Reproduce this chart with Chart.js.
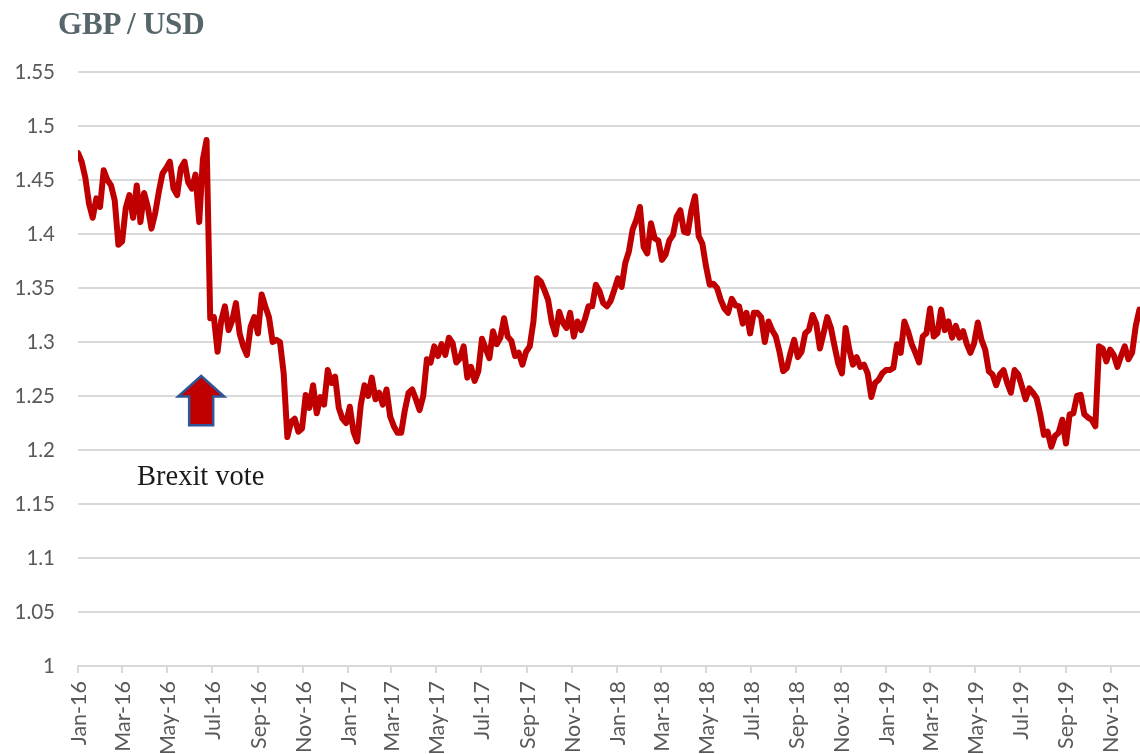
<!DOCTYPE html>
<html>
<head>
<meta charset="utf-8">
<title>GBP / USD</title>
<script src="https://cdn.jsdelivr.net/npm/chart.js@4"></script>
<style>
  html, body { margin: 0; padding: 0; background: #fff; overflow: hidden; }
  #wrap { position: relative; width: 1140px; height: 754px; }
  #title { position: absolute; left: 58px; top: 6px; font: bold 31px "Liberation Serif", serif; letter-spacing: -0.2px; color: #56666b; }
</style>
</head>
<body>
<div id="wrap">
  <div id="title">GBP / USD</div>
  <canvas id="fxChart" width="1140" height="754"></canvas>
</div>
<script>
// one reading roughly every 5 calendar days, starting 1 Jan 2016
const dayStep = 4.98;
const gbpUsd = [
  1.475, 1.467, 1.452, 1.428, 1.415, 1.433, 1.425, 1.459, 1.45, 1.445,
  1.431, 1.39, 1.393, 1.424, 1.436, 1.415, 1.445, 1.411, 1.438, 1.425,
  1.405, 1.419, 1.439, 1.456, 1.461, 1.467, 1.442, 1.436, 1.461, 1.467,
  1.448, 1.442, 1.455, 1.411, 1.469, 1.487, 1.322, 1.323, 1.291, 1.32,
  1.333, 1.311, 1.32, 1.336, 1.308, 1.296, 1.288, 1.314, 1.323, 1.308,
  1.344, 1.333, 1.323, 1.3, 1.302, 1.3, 1.271, 1.212, 1.226, 1.229,
  1.217, 1.22, 1.251, 1.239, 1.26, 1.234, 1.249, 1.242, 1.274, 1.262,
  1.268, 1.239, 1.229, 1.225, 1.24, 1.217, 1.208, 1.242, 1.26, 1.25,
  1.267, 1.247, 1.253, 1.242, 1.256, 1.231, 1.222, 1.216, 1.216, 1.237,
  1.253, 1.256, 1.247, 1.237, 1.25, 1.284, 1.281, 1.296, 1.287, 1.298,
  1.288, 1.304, 1.299, 1.281, 1.285, 1.296, 1.267, 1.277, 1.264, 1.273,
  1.303, 1.294, 1.285, 1.31, 1.298, 1.304, 1.322, 1.305, 1.301, 1.287,
  1.29, 1.279, 1.291, 1.296, 1.319, 1.359, 1.356, 1.348, 1.339, 1.318,
  1.307, 1.328, 1.318, 1.313, 1.327, 1.305, 1.319, 1.311, 1.321, 1.333,
  1.333, 1.353, 1.347, 1.336, 1.333, 1.338, 1.348, 1.359, 1.351, 1.373,
  1.384, 1.404, 1.413, 1.425, 1.388, 1.382, 1.41, 1.396, 1.394, 1.376,
  1.381, 1.394, 1.399, 1.416, 1.422, 1.402, 1.401, 1.422, 1.435, 1.398,
  1.391, 1.37, 1.353, 1.354, 1.35, 1.339, 1.331, 1.327, 1.34, 1.334,
  1.333, 1.317, 1.327, 1.308, 1.327, 1.327, 1.323, 1.3, 1.319, 1.311,
  1.305, 1.291, 1.273, 1.276, 1.29, 1.302, 1.286, 1.291, 1.308, 1.311,
  1.325, 1.317, 1.294, 1.308, 1.323, 1.313, 1.296, 1.28, 1.271, 1.313,
  1.293, 1.279, 1.286, 1.277, 1.279, 1.271, 1.249, 1.262, 1.265, 1.271,
  1.274, 1.274, 1.276, 1.298, 1.29, 1.319, 1.31, 1.298, 1.29, 1.281,
  1.305, 1.308, 1.331, 1.305, 1.308, 1.33, 1.311, 1.319, 1.304, 1.315,
  1.304, 1.31, 1.298, 1.29, 1.299, 1.318, 1.302, 1.293, 1.273, 1.27,
  1.26, 1.27, 1.274, 1.262, 1.253, 1.274, 1.27, 1.259, 1.247, 1.257,
  1.253, 1.248, 1.233, 1.214, 1.217, 1.203, 1.213, 1.216, 1.228, 1.206,
  1.233, 1.234, 1.25, 1.251, 1.233, 1.23, 1.228, 1.222, 1.296, 1.294,
  1.282, 1.293, 1.288, 1.277, 1.287, 1.296, 1.284, 1.29, 1.315, 1.33
];

// x axis: days since 1 Jan 2016, a tick every second month
const tickDays = [0, 60, 121, 182, 244, 305, 366, 425, 486, 547, 609, 670, 731, 790, 851, 912, 974, 1035, 1096, 1155, 1216, 1277, 1339, 1400];
const tickLabels = ['Jan-16', 'Mar-16', 'May-16', 'Jul-16', 'Sep-16', 'Nov-16', 'Jan-17', 'Mar-17', 'May-17', 'Jul-17', 'Sep-17', 'Nov-17', 'Jan-18', 'Mar-18', 'May-18', 'Jul-18', 'Sep-18', 'Nov-18', 'Jan-19', 'Mar-19', 'May-19', 'Jul-19', 'Sep-19', 'Nov-19'];

// Brexit vote marker
const voteDay = 167;
const voteLabel = 'Brexit vote';

const points = gbpUsd.map(function (v, i) {
    return { x: i * dayStep, y: v };
});

const voteMarker = {
    id: 'voteMarker',
    afterDatasetsDraw: function (chart) {
        const ctx = chart.ctx;
        const xc = chart.scales.x.getPixelForValue(voteDay);
        const tip = chart.scales.y.getPixelForValue(1.2685);
        const neck = chart.scales.y.getPixelForValue(1.2495);
        const base = chart.scales.y.getPixelForValue(1.223);

        ctx.save();
        ctx.beginPath();
        ctx.moveTo(xc, tip);
        ctx.lineTo(xc + 23, neck);
        ctx.lineTo(xc + 12, neck);
        ctx.lineTo(xc + 12, base);
        ctx.lineTo(xc - 12, base);
        ctx.lineTo(xc - 12, neck);
        ctx.lineTo(xc - 23, neck);
        ctx.closePath();
        ctx.fillStyle = '#c00000';
        ctx.fill();
        ctx.lineWidth = 2.5;
        ctx.strokeStyle = '#2f5597';
        ctx.stroke();

        ctx.fillStyle = '#1a1a1a';
        ctx.font = '28.5px "Liberation Serif", serif';
        ctx.textAlign = 'left';
        ctx.textBaseline = 'alphabetic';
        ctx.fillText(voteLabel, 137, 485);
        ctx.restore();
    }
};

new Chart(document.getElementById('fxChart').getContext('2d'), {
    type: 'line',
    data: {
        datasets: [{
            label: 'GBP / USD',
            data: points,
            borderColor: '#c00000',
            borderWidth: 6,
            borderJoinStyle: 'round',
            borderCapStyle: 'round',
            pointRadius: 0,
            tension: 0,
            fill: false
        }]
    },
    plugins: [voteMarker],
    options: {
        responsive: false,
        animation: false,
        layout: { padding: { top: 72, right: 0, left: 0, bottom: 0 } },
        plugins: {
            legend: { display: false },
            tooltip: { enabled: false },
            title: { display: false }
        },
        scales: {
            x: {
                type: 'linear',
                min: 0,
                max: 1440,
                afterBuildTicks: function (axis) {
                    axis.ticks = tickDays.map(function (d) {
                        return { value: d };
                    });
                },
                afterFit: function (axis) {
                    axis.height = 88;
                    axis.paddingLeft = 0;
                    axis.paddingRight = 0;
                },
                grid: {
                    drawOnChartArea: false,
                    drawTicks: true,
                    tickLength: 7,
                    color: '#d9d9d9',
                    lineWidth: 2
                },
                border: { color: '#d9d9d9', width: 2 },
                ticks: {
                    autoSkip: false,
                    minRotation: 90,
                    maxRotation: 90,
                    padding: 8,
                    labelOffset: 1,
                    color: '#595959',
                    font: { family: 'Lato', size: 21.5 },
                    callback: function (value) {
                        return tickLabels[tickDays.indexOf(value)];
                    }
                }
            },
            y: {
                min: 1,
                max: 1.55,
                afterFit: function (axis) {
                    axis.width = 78;
                },
                grid: {
                    drawTicks: false,
                    color: '#d9d9d9',
                    lineWidth: 2
                },
                border: { display: false },
                ticks: {
                    stepSize: 0.05,
                    padding: 23,
                    color: '#595959',
                    font: { family: 'Lato', size: 20.5 },
                    callback: function (value) {
                        return String(Math.round(value * 100) / 100);
                    }
                }
            }
        }
    }
});
</script>
</body>
</html>
